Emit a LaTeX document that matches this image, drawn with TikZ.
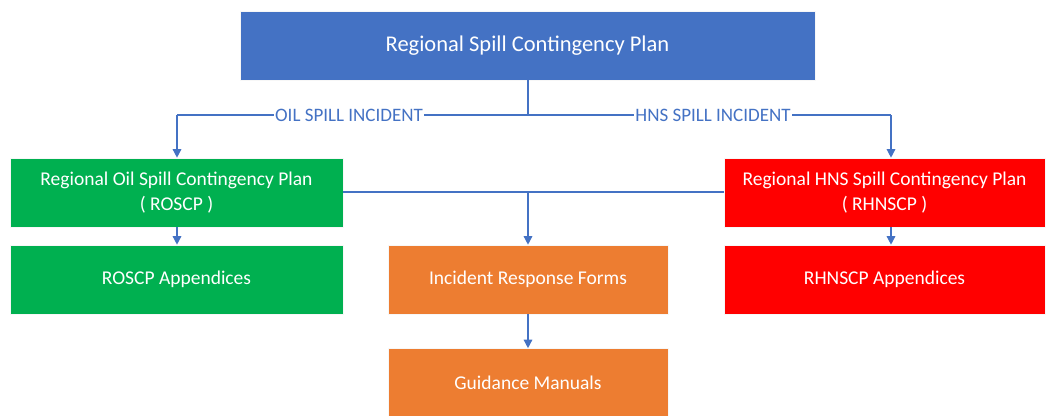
\documentclass[tikz,border=0pt]{standalone}
\usepackage{fontspec}
\setmainfont{Carlito}
\usetikzlibrary{arrows.meta}
\definecolor{cblue}{HTML}{4472C4}
\definecolor{cgreen}{HTML}{00B050}
\definecolor{cred}{HTML}{FF0000}
\definecolor{corange}{HTML}{ED7D31}
\tikzset{
  box/.style={rectangle, draw=white!70!black!10, line width=0.6pt, text=white, align=center, inner sep=0pt, minimum height=69pt, font=\fontsize{19.5}{25}\selectfont},
  conn/.style={draw=cblue, line width=1.4pt},
  arr/.style={conn, -{Triangle[width=8.5pt,length=8.5pt]}},
  lab/.style={fill=white, text=cblue, inner sep=1pt, font=\fontsize{19}{22}\selectfont}
}
\begin{document}
\begin{tikzpicture}[x=1pt,y=-1pt]
\useasboundingbox (0,0) rectangle (1046,415);
\node[box, fill=cblue, minimum width=575pt, font=\fontsize{22.5}{26}\selectfont] (top) at (527.5,45.5) {Regional Spill Contingency Plan};
\node[box, fill=cgreen, minimum width=333pt] (roscp) at (176.5,192.5) {Regional Oil Spill Contingency Plan\\( ROSCP )};
\node[box, fill=cred, minimum width=321pt] (rhnscp) at (884.5,192.5) {Regional HNS Spill Contingency Plan\\( RHNSCP )};
\node[box, fill=cgreen, minimum width=333pt] (roscpapp) at (176.5,279.5) {ROSCP Appendices};
\node[box, fill=cred, minimum width=321pt] (rhnscpapp) at (884.5,279.5) {RHNSCP Appendices};
\node[box, fill=corange, minimum width=280pt] (irf) at (528,279.5) {Incident Response Forms};
\node[box, fill=corange, minimum width=280pt] (gm) at (528,383) {Guidance Manuals};
\coordinate (jt) at (528,115);
\coordinate (jl) at (177,115);
\coordinate (jr) at (891,115);
\coordinate (jm) at (528,192);
\draw[conn] (top.south -| jt) -- (jt);
\draw[conn] (jl) -- (jr);
\draw[arr] (jl) -- (jl |- roscp.north);
\draw[arr] (jr) -- (jr |- rhnscp.north);
\node[lab] (oil) at (349,115) {OIL SPILL INCIDENT};
\node[lab] (hns) at (713,115) {HNS SPILL INCIDENT};
\draw[conn] (roscp.east |- jm) -- (rhnscp.west |- jm);
\draw[arr] (jm) -- (irf.north);
\draw[arr] (roscp.south -| jl) -- (roscpapp.north -| jl);
\draw[arr] (rhnscp.south -| jr) -- (rhnscpapp.north -| jr);
\draw[arr] (irf.south) -- (gm.north);
\end{tikzpicture}
\end{document}
